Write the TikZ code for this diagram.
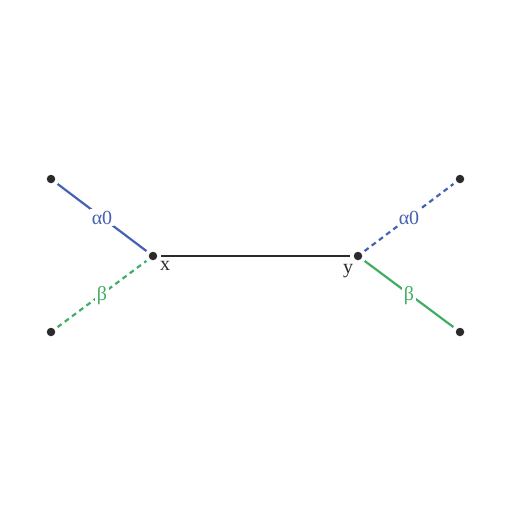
\documentclass[tikz,border=0pt]{standalone}
\usepackage{fontspec}
\setmainfont{Liberation Serif}
\usepackage{xcolor}
\usepackage{tikz}
\usetikzlibrary{positioning}
\definecolor{edgeblue}{HTML}{4661B3}
\definecolor{edgegreen}{HTML}{3FAE62}
\definecolor{darkgray}{HTML}{2B2B2B}

\begin{document}
\begin{tikzpicture}[
  x=1pt, y=-1pt,
  dot/.style = {
    circle, fill=darkgray, inner sep=0pt,
    minimum size=8.5pt, outer sep=4pt
  },
  edge/.style = {line width=2.2pt},
  dashedge/.style = {line width=2.2pt, dash pattern=on 5pt off 4pt},
  lab/.style = {
    fill=white, inner sep=1.5pt,
    font=\fontsize{20}{22}\selectfont
  },
  vname/.style = {font=\fontsize{20}{22}\selectfont, text=darkgray}
]
  \useasboundingbox (0,0) rectangle (512,512);

  % inner vertices
  \node[dot] (x) at (153,256) {};
  \node[dot] (y) at (358,256) {};
  \node[vname] (xl) at ([xshift=12pt, yshift=-10pt]x.center) {x};
  \node[vname] (yl) at ([xshift=-10pt, yshift=-15pt]y.center) {y};

  % leaves
  \node[dot] (a) at (51,179) {};
  \node[dot] (b) at (51,332) {};
  \node[dot] (c) at (460,179) {};
  \node[dot] (d) at (460,332) {};

  \draw[edge, darkgray] (x) -- (y);

  \draw[edge, edgeblue] (a) -- node[lab, text=edgeblue] {α0} (x);
  \draw[dashedge, edgegreen] (b) -- node[lab, text=edgegreen, yshift=-2pt] {β} (x);
  \draw[dashedge, edgeblue] (y) -- node[lab, text=edgeblue] {α0} (c);
  \draw[edge, edgegreen] (y) -- node[lab, text=edgegreen, yshift=-2pt] {β} (d);
\end{tikzpicture}
\end{document}
